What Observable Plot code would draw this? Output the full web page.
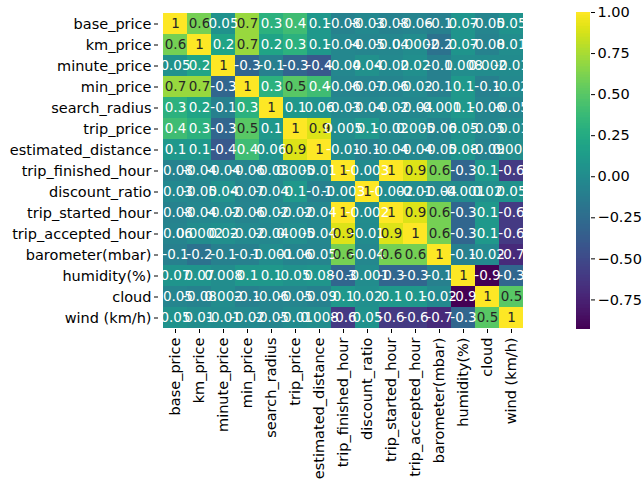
<!DOCTYPE html>
<html><head><meta charset="utf-8">
<script src="https://cdn.jsdelivr.net/npm/d3@7"></script>
<script src="https://cdn.jsdelivr.net/npm/@observablehq/plot@0.6"></script>
<style>
body{margin:0;background:#fff;overflow:hidden;}
#wrap{position:relative;width:642px;height:486px;overflow:hidden;font-family:"DejaVu Sans",sans-serif;}
#wrap svg{position:absolute;top:0;overflow:visible;}
</style>
</head><body>
<div id="wrap"></div>
<script>
const variables = ["base_price","km_price","minute_price","min_price","search_radius","trip_price","estimated_distance","trip_finished_hour","discount_ratio","trip_started_hour","trip_accepted_hour","barometer(mbar)","humidity(%)","cloud","wind (km/h)"];
const corr = [
  [1, 0.6, 0.05, 0.7, 0.3, 0.4, 0.1, -0.08, -0.03, -0.08, -0.06, -0.1, 0.07, -0.05, 0.05],
  [0.6, 1, 0.2, 0.7, 0.2, 0.3, 0.1, -0.04, -0.05, -0.04, 0.0002, -0.2, 0.07, -0.08, 0.01],
  [0.05, 0.2, 1, -0.3, -0.1, -0.3, -0.4, -0.04, 0.04, -0.02, 0.02, -0.1, 0.008, 0.002, -0.01],
  [0.7, 0.7, -0.3, 1, 0.3, 0.5, 0.4, -0.06, -0.07, -0.06, -0.02, -0.1, 0.1, -0.1, -0.02],
  [0.3, 0.2, -0.1, 0.3, 1, 0.1, 0.06, -0.03, -0.04, -0.02, -0.04, -0.001, 0.1, -0.06, -0.05],
  [0.4, 0.3, -0.3, 0.5, 0.1, 1, 0.9, 0.005, 0.1, -0.02, 0.005, -0.06, 0.05, -0.05, -0.01],
  [0.1, 0.1, -0.4, 0.4, 0.06, 0.9, 1, -0.01, -0.1, -0.04, -0.04, -0.05, 0.08, -0.09, 0.008],
  [-0.08, -0.04, -0.04, -0.06, -0.03, 0.005, -0.01, 1, -0.003, 1, 0.9, 0.6, -0.3, 0.1, -0.6],
  [-0.03, -0.05, 0.04, -0.07, -0.04, 0.1, -0.1, -0.003, 1, -0.002, -0.01, -0.04, -0.001, 0.02, 0.05],
  [-0.08, -0.04, -0.02, -0.06, -0.02, -0.02, -0.04, 1, -0.002, 1, 0.9, 0.6, -0.3, 0.1, -0.6],
  [-0.06, 0.0002, 0.02, -0.02, -0.04, 0.005, -0.04, 0.9, -0.01, 0.9, 1, 0.6, -0.3, 0.1, -0.6],
  [-0.1, -0.2, -0.1, -0.1, -0.001, -0.06, -0.05, 0.6, -0.04, 0.6, 0.6, 1, -0.1, -0.02, -0.7],
  [0.07, 0.07, 0.008, 0.1, 0.1, 0.05, 0.08, -0.3, -0.001, -0.3, -0.3, -0.1, 1, -0.93, -0.3],
  [-0.05, -0.08, 0.002, -0.1, -0.06, -0.05, -0.09, 0.1, 0.02, 0.1, 0.1, -0.02, -0.93, 1, 0.5],
  [0.05, 0.01, -0.01, -0.02, -0.05, -0.01, 0.008, -0.6, 0.05, -0.6, -0.6, -0.7, -0.3, 0.5, 1]
];
const colorbarTicks = [-0.75, -0.5, -0.25, 0, 0.25, 0.5, 0.75, 1];

const cells = [];
corr.forEach((row, i) => row.forEach((v, j) => cells.push({row: variables[i], col: variables[j], value: v})));
const vmin = d3.min(cells, d => d.value), vmax = d3.max(cells, d => d.value);
const fmt = v => d3.format(".1g")(v).replace("\u2212", "-");
const color = {type: "linear", scheme: "viridis", domain: [vmin, vmax]};
const font = {fontSize: "14.5px", fontFamily: "DejaVu Sans, sans-serif", color: "#000", background: "transparent", overflow: "visible"};

const main = Plot.plot({
  width: 642, height: 486,
  marginLeft: 158, marginRight: 115, marginTop: 12, marginBottom: 157,
  style: font,
  x: {domain: variables, padding: 0, label: null, tickRotate: -90, tickSize: 4, tickPadding: 4},
  y: {domain: variables, padding: 0, label: null, tickSize: 4, tickPadding: 3},
  color,
  marks: [
    Plot.cell(cells, {x: "col", y: "row", fill: "value", shapeRendering: "crispEdges"}),
    Plot.text(cells, {x: "col", y: "row", text: d => fmt(d.value), fontSize: 13.5,
      fill: d => d.value > 0.45 ? "#262626" : "#ffffff"})
  ]
});
main.style.left = "0px";
document.getElementById("wrap").appendChild(main);

const bands = d3.range(200).map(k => {
  const y1 = vmin + (vmax - vmin) * k / 200, y2 = vmin + (vmax - vmin) * (k + 1) / 200;
  return {y1, y2, v: (y1 + y2) / 2};
});
const bar = Plot.plot({
  width: 66, height: 486,
  marginLeft: 0, marginRight: 52, marginTop: 12, marginBottom: 157,
  style: font,
  x: {domain: [0, 1], axis: null},
  y: {domain: [vmin, vmax], label: null},
  color,
  marks: [
    Plot.rect(bands, {x1: 0, x2: 1, y1: "y1", y2: "y2", fill: "v", shapeRendering: "crispEdges"}),
    Plot.axisY(colorbarTicks, {anchor: "right", tickFormat: d3.format(".2f"), tickSize: 4, tickPadding: 3, label: null})
  ]
});
bar.style.left = "576px";
document.getElementById("wrap").appendChild(bar);
</script>
</body></html>
